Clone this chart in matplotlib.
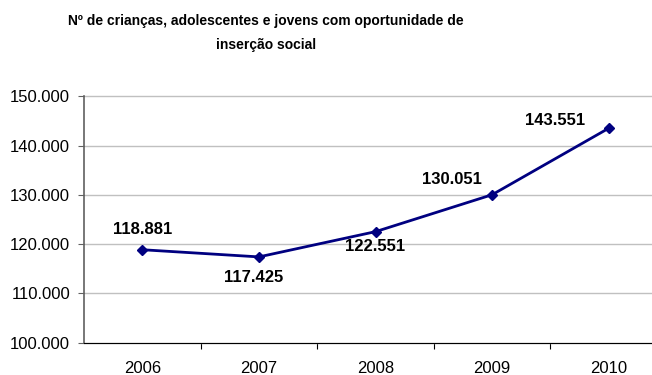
import numpy as np
import matplotlib.pyplot as plt
from matplotlib.ticker import FuncFormatter

# Data
anos = ['2006', '2007', '2008', '2009', '2010']
valores = [118881, 117425, 122551, 130051, 143551]
# label offsets in pixels (dx, dy) relative to each point
offsets = [(0, 20), (-5, -21), (0, -15), (-40, 15), (-54, 8)]

plt.rcParams['font.family'] = ['Liberation Sans', 'DejaVu Sans']

fig = plt.figure(figsize=(6.52, 3.75), dpi=100)
ax = fig.add_axes([84 / 652, 1 - 342.7 / 375, 583 / 652, 246.2 / 375])

x = np.arange(len(anos))
ax.plot(x, valores, color='#000080', linewidth=2, marker='D', markersize=5,
        zorder=3, clip_on=False)

def fmt(v):
    return f'{v:,.0f}'.replace(',', '.')

for xi, v, (dx, dy) in zip(x, valores, offsets):
    ax.annotate(fmt(v), (xi, v), xytext=(dx, dy), textcoords='offset pixels',
                ha='center', va='center', fontsize=12, fontweight='bold')

ax.set_xlim(-0.5, len(anos) - 0.5)
ax.set_ylim(100000, 150000)
ax.set_yticks(np.arange(100000, 150001, 10000))
ax.yaxis.set_major_formatter(FuncFormatter(lambda v, p: fmt(v)))
ax.grid(axis='y', color='#c0c0c0', linewidth=1)
for gl in ax.get_ygridlines():
    gl.set_clip_on(False)
ax.set_axisbelow(True)

ax.set_xticks(np.arange(0.5, len(anos) - 0.5, 1))
ax.set_xticklabels([])
ax.set_xticks(x, minor=True)
ax.set_xticklabels(anos, minor=True)
ax.tick_params(axis='x', which='major', length=4, color='black', direction='out')
ax.tick_params(axis='x', which='minor', length=0, pad=13, labelsize=12)
ax.tick_params(axis='y', length=4, pad=6, labelsize=12, color='#606060')

for s in ['top', 'right']:
    ax.spines[s].set_visible(False)
ax.spines['left'].set_color('#606060')
ax.spines['left'].set_linewidth(1.2)
ax.spines['bottom'].set_color('black')

fig.text(266 / 652, 1 - 33 / 375,
         'Nº de crianças, adolescentes e jovens com oportunidade de\ninserção social',
         ha='center', va='center', fontsize=10, fontweight='bold', linespacing=1.95)

fig.savefig('out.png', dpi=100)
